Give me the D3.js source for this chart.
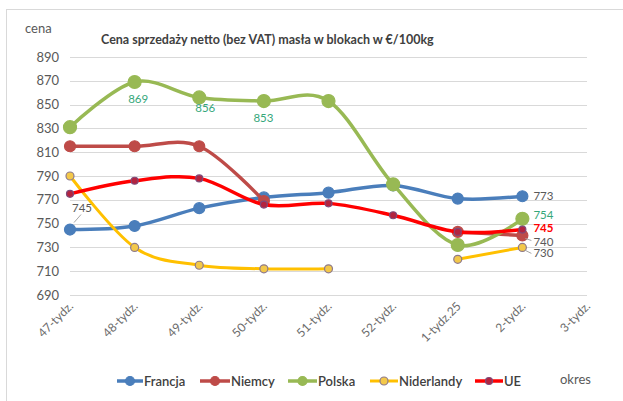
<!DOCTYPE html>
<html>
<head>
<meta charset="utf-8">
<script src="https://cdn.jsdelivr.net/npm/d3@7"></script>
<style>
  body { margin: 0; background: #fff; }
  svg { display: block; }
  text { font-family: Lato, "Open Sans", sans-serif; }
</style>
</head>
<body>
<div id="chart"></div>
<script>
// data
const weeks = ["47-tydz.", "48-tydz.", "49-tydz.", "50-tydz.", "51-tydz.", "52-tydz.", "1-tydz.25", "2-tydz.", "3-tydz."];
const francja = [745, 748, 763, 772, 776, 782, 771, 773, null];
const niemcy = [815, 815, 815, 769, null, null, 743, 740, null];
const polska = [831, 869, 856, 853, 853, 783, 732, 754, null];
const niderlandy = [790, 730, 715, 712, 712, null, 720, 730, null];
const ue = [775, 786, 788, 766, 767, 757, 743, 745, null];
const yTicks = [690, 710, 730, 750, 770, 790, 810, 830, 850, 870, 890];

const width = 623;
const height = 401;

const svg = d3.select("#chart")
    .append("svg")
    .attr("width", width)
    .attr("height", height);

// chart frame
svg.append("rect")
    .attr("x", 6.5).attr("y", 9.5)
    .attr("width", 620).attr("height", 400)
    .attr("fill", "#fff")
    .attr("stroke", "#d9d9d9");

const x = d3.scalePoint().domain(weeks).range([70, 587]);
const y = d3.scaleLinear().domain([690, 890]).range([295, 57]);

// gridlines + y labels
svg.append("g")
    .selectAll("line")
    .data(yTicks)
    .join("line")
    .attr("x1", 70).attr("x2", 587)
    .attr("y1", d => Math.round(y(d)) + 0.5)
    .attr("y2", d => Math.round(y(d)) + 0.5)
    .attr("stroke", "#d9d9d9");

svg.append("g")
    .selectAll("text")
    .data(yTicks)
    .join("text")
    .attr("x", 59)
    .attr("y", d => y(d) + 4.5)
    .attr("text-anchor", "end")
    .attr("font-size", 13)
    .attr("fill", "#595959")
    .text(d => d);

// x labels, rotated
svg.append("g")
    .selectAll("text")
    .data(weeks)
    .join("text")
    .attr("transform", d => `translate(${x(d) + 4},${307}) rotate(-45)`)
    .attr("text-anchor", "end")
    .attr("font-size", 12)
    .attr("fill", "#6b6b6b")
    .text(d => d);

// titles
svg.append("text")
    .attr("x", 101).attr("y", 44)
    .attr("font-size", 12.5)
    .attr("font-weight", "bold")
    .attr("fill", "#404040")
    .text("Cena sprzedaży netto (bez VAT) masła w blokach w €/100kg");

svg.append("text")
    .attr("x", 25).attr("y", 33)
    .attr("font-size", 13)
    .attr("fill", "#595959")
    .text("cena");

svg.append("text")
    .attr("x", 560).attr("y", 384)
    .attr("font-size", 13)
    .attr("fill", "#595959")
    .text("okres");

const series = [
    { name: "Francja", values: francja, color: "#4a7ebb", width: 3.5, r: 5.5, fill: "#4a7ebb", stroke: "#4a7ebb", lx: 117, lw: 26 },
    { name: "Niemcy", values: niemcy, color: "#be4b48", width: 3.5, r: 5.5, fill: "#be4b48", stroke: "#be4b48", lx: 200, lw: 30 },
    { name: "Polska", values: polska, color: "#98b954", width: 3.5, r: 6.5, fill: "#98b954", stroke: "#98b954", lx: 288, lw: 29 },
    { name: "Niderlandy", values: niderlandy, color: "#ffc000", width: 3, r: 4, fill: "#f3c84a", stroke: "#8e7a8c", lx: 370, lw: 28 },
    { name: "UE", values: ue, color: "#ff0000", width: 3.5, r: 3.5, fill: "#b3243f", stroke: "#7f4a7a", lx: 475, lw: 28 }
];

const line = d3.line()
    .defined(d => d.v != null)
    .x(d => x(d.w))
    .y(d => y(d.v))
    .curve(d3.curveCardinal.tension(0));

series.forEach(s => {
    const pts = s.values.map((v, i) => ({ w: weeks[i], v: v }));
    const g = svg.append("g");
    g.append("path")
        .datum(pts)
        .attr("d", line)
        .attr("fill", "none")
        .attr("stroke", s.color)
        .attr("stroke-width", s.width)
        .attr("stroke-linecap", "round");
    g.selectAll("circle")
        .data(pts.filter(d => d.v != null))
        .join("circle")
        .attr("cx", d => x(d.w))
        .attr("cy", d => y(d.v))
        .attr("r", s.r)
        .attr("fill", s.fill)
        .attr("stroke", s.stroke)
        .attr("stroke-width", 1.2);

    // legend
    const lg = svg.append("g");
    lg.append("line")
        .attr("x1", s.lx).attr("x2", s.lx + s.lw)
        .attr("y1", 381).attr("y2", 381)
        .attr("stroke", s.color)
        .attr("stroke-width", s.width);
    lg.append("circle")
        .attr("cx", s.lx + s.lw / 2).attr("cy", 381)
        .attr("r", Math.min(s.r, 4.5))
        .attr("fill", s.fill)
        .attr("stroke", s.stroke)
        .attr("stroke-width", 1.2);
    lg.append("text")
        .attr("x", s.lx + s.lw + 1).attr("y", 385.5)
        .attr("font-size", 13)
        .attr("font-weight", 600)
        .attr("fill", "#404040")
        .text(s.name);
});

// data labels
const labels = [
    { vals: francja, i: 0, dx: 2, dy: -18, color: "#595959", bold: false, lead: [[4, -7], [11, -15]] },
    { vals: polska, i: 1, dx: -6.5, dy: 21, color: "#35a77a", bold: false },
    { vals: polska, i: 2, dx: -4, dy: 15, color: "#35a77a", bold: false },
    { vals: polska, i: 3, dx: -10.5, dy: 20.5, color: "#35a77a", bold: false },
    { vals: francja, i: 7, dx: 11, dy: 3.5, color: "#595959", bold: false },
    { vals: polska, i: 7, dx: 11, dy: 0.5, color: "#35a77a", bold: false },
    { vals: ue, i: 7, dx: 11, dy: 2.7, color: "#ff0000", bold: true },
    { vals: niemcy, i: 7, dx: 11, dy: 10, color: "#595959", bold: false, lead: [[3, 3], [9, 5]] },
    { vals: niderlandy, i: 7, dx: 11, dy: 10, color: "#595959", bold: false, lead: [[3, 3], [9, 6]] }
];

labels.forEach(l => {
    const px = x(weeks[l.i]);
    const py = y(l.vals[l.i]);
    if (l.lead) {
        svg.append("line")
            .attr("x1", px + l.lead[0][0]).attr("y1", py + l.lead[0][1])
            .attr("x2", px + l.lead[1][0]).attr("y2", py + l.lead[1][1])
            .attr("stroke", "#a6a6a6")
            .attr("stroke-width", 1);
    }
    svg.append("text")
        .attr("x", px + l.dx).attr("y", py + l.dy)
        .attr("font-size", 11.5)
        .attr("font-weight", l.bold ? "bold" : "normal")
        .attr("fill", l.color)
        .text(l.vals[l.i]);
});
</script>
</body>
</html>
